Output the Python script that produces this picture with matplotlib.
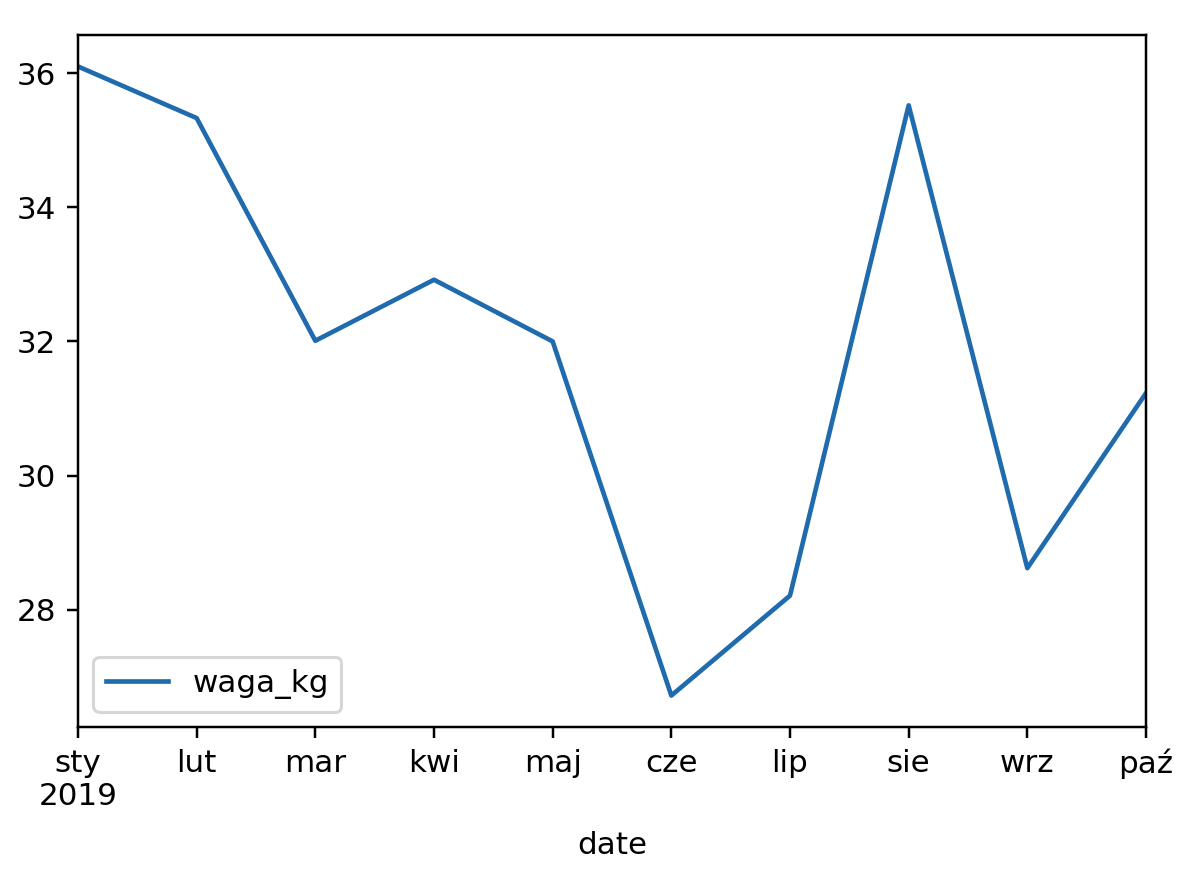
import matplotlib
matplotlib.use("Agg")
import matplotlib.pyplot as plt

months = ["sty\n2019", "lut", "mar", "kwi", "maj", "cze", "lip", "sie", "wrz", "paź"]
waga_kg = [36.1, 35.33, 32.01, 32.92, 32.0, 26.72, 28.21, 35.52, 28.62, 31.23]
yticks = [28, 30, 32, 34, 36]

DPI = 223
fig = plt.figure(figsize=(1189 / DPI, 880 / DPI), dpi=DPI)
ax = fig.add_axes([78 / 1189, 1 - 727 / 880, (1146 - 78) / 1189, (727 - 35) / 880])

x = list(range(len(waga_kg)))
ax.plot(x, waga_kg, color="#1f6bad", linewidth=1.5, label="waga_kg")
ax.set_xlim(x[0], x[-1])
ax.set_xticks(x)
ax.set_xticklabels(months)
ax.set_yticks(yticks)
ax.set_xlabel("date", labelpad=6.3)
ax.legend(loc="lower left")

fig.savefig("out.png", dpi=DPI)
